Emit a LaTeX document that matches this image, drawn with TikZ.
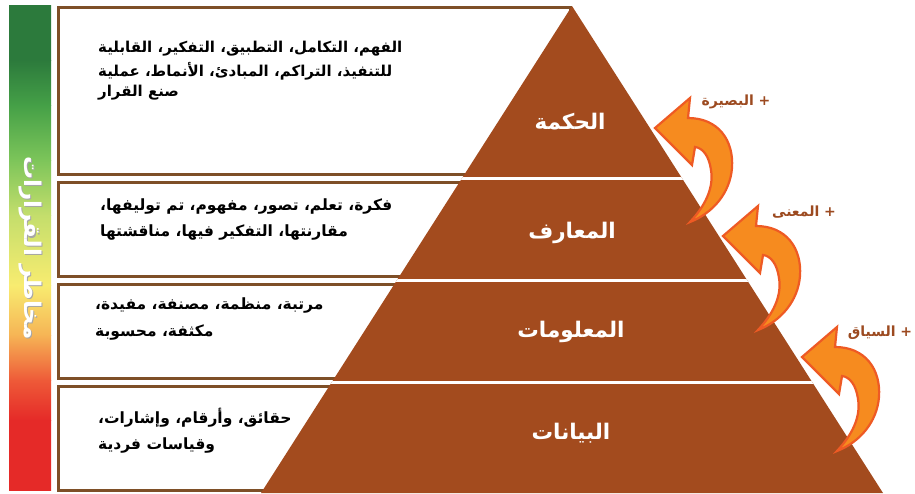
\documentclass[tikz,border=0pt]{standalone}
\usepackage{fontspec}
\newfontfamily\arabicfont[Script=Arabic]{DejaVu Sans}
\TeXXeTstate=1
\definecolor{pyr}{HTML}{A34B1E}
\definecolor{boxbrd}{HTML}{7E4F27}
\definecolor{arrfill}{HTML}{F68B1F}
\definecolor{arrline}{HTML}{EE5A24}
\definecolor{lbl}{HTML}{9C4A20}
\definecolor{g1}{HTML}{2C7A3C}
\definecolor{g2}{HTML}{45A047}
\definecolor{g3}{HTML}{7DC55A}
\definecolor{g4}{HTML}{C4DE6C}
\definecolor{g5}{HTML}{F8EC70}
\definecolor{g6}{HTML}{F6B455}
\definecolor{g7}{HTML}{EE5A38}
\definecolor{g8}{HTML}{E52A28}
\tikzset{
  infobox/.style={draw=boxbrd, line width=3pt, fill=white},
  boxtext/.style={anchor=west, inner sep=0pt, font=\arabicfont\bfseries\fontsize{15.5}{18}\selectfont, text=black},
  boxtexta/.style={anchor=west, inner sep=0pt, font=\arabicfont\bfseries\fontsize{15}{17}\selectfont, text=black},
  layerlabel/.style={inner sep=0pt, font=\arabicfont\bfseries\fontsize{21.5}{24}\selectfont, text=white},
  arrlabel/.style={inner sep=0pt, font=\arabicfont\bfseries\fontsize{14}{16}\selectfont, text=lbl},
  curvarrow/.pic={
    \filldraw[fill=arrfill, draw=arrline, line width=2.2pt, line join=miter, miter limit=6]
      (0,0) -- (35,-30) -- (33,-10)
      .. controls (63,-10) and (79,12) .. (77,40)
      .. controls (75,65) and (58,85) .. (35,94)
      .. controls (50,78) and (59,60) .. (56,42)
      .. controls (54,28) and (48,20) .. (40,19)
      -- (37,37) -- cycle;
  }
}
\begin{document}
\begin{tikzpicture}[x=1pt,y=-1pt]
\useasboundingbox (0,0) rectangle (915,493);
% gradient bar
\shade[top color=g1, bottom color=g1] (9,5) rectangle (51,60.5);
\shade[top color=g1, bottom color=g2] (9,60) rectangle (51,105.5);
\shade[top color=g2, bottom color=g3] (9,105) rectangle (51,160.5);
\shade[top color=g3, bottom color=g4] (9,160) rectangle (51,215.5);
\shade[top color=g4, bottom color=g5] (9,215) rectangle (51,285.5);
\shade[top color=g5, bottom color=g6] (9,285) rectangle (51,335.5);
\shade[top color=g6, bottom color=g7] (9,335) rectangle (51,380.5);
\shade[top color=g7, bottom color=g8] (9,380) rectangle (51,420.5);
\shade[top color=g8, bottom color=g8] (9,420) rectangle (51,490);
\node[rotate=-90, inner sep=0pt, text=gray!70, font=\arabicfont\bfseries\fontsize{23}{25}\selectfont] (riskshadow) at (31.2,249.2) {\beginR مخاطر القرارات\endR};
\node[rotate=-90, inner sep=0pt, text=white, font=\arabicfont\bfseries\fontsize{23}{25}\selectfont] (risk) at (30,248) {\beginR مخاطر القرارات\endR};
% boxes
\draw[infobox] (58,7) rectangle (570,174);
\draw[infobox] (58,182) rectangle (570,276);
\draw[infobox] (58,284) rectangle (570,378);
\draw[infobox] (58,386) rectangle (570,490);
% pyramid
\fill[pyr] (572,6) -- (883,493) -- (261,493) -- cycle;
\begin{scope}
  \clip (572,6) -- (883,493) -- (261,493) -- cycle;
  \draw[white, line width=3pt] (250,178.5) -- (900,178.5);
  \draw[white, line width=3pt] (250,280.5) -- (900,280.5);
  \draw[white, line width=3pt] (250,382.5) -- (900,382.5);
\end{scope}
% layer labels
\node[layerlabel] (wisdom) at (570,122) {\beginR الحكمة\endR};
\node[layerlabel] (knowledge) at (572,233) {\beginR المعارف\endR};
\node[layerlabel] (information) at (571,332) {\beginR المعلومات\endR};
\node[layerlabel] (data) at (571,433) {\beginR البيانات\endR};
% box texts
\node[boxtexta] (t1a) at (98,49) {\beginR الفهم، التكامل، التطبيق، التفكير، القابلية\endR};
\node[boxtexta] (t1b) at (98,71) {\beginR للتنفيذ، التراكم، المبادئ، الأنماط، عملية\endR};
\node[boxtexta] (t1c) at (98,93) {\beginR صنع القرار\endR};
\node[boxtext] (t2a) at (100,207) {\beginR فكرة، تعلم، تصور، مفهوم، تم توليفها،\endR};
\node[boxtext] (t2b) at (100,233) {\beginR مقارنتها، التفكير فيها، مناقشتها\endR};
\node[boxtext] (t3a) at (95,305) {\beginR مرتبة، منظمة، مصنفة، مفيدة،\endR};
\node[boxtext] (t3b) at (95,332) {\beginR مكثفة، محسوبة\endR};
\node[boxtext] (t4a) at (98,418) {\beginR حقائق، وأرقام، وإشارات،\endR};
\node[boxtext] (t4b) at (98,445) {\beginR وقياسات فردية\endR};
% arrows
\pic (arrA) at (655,128) {curvarrow};
\pic (arrB) at (723,236) {curvarrow};
\pic (arrC) at (802,357) {curvarrow};
\node[arrlabel] (insight) at (736,102) {\beginR + البصيرة\endR};
\node[arrlabel] (meaning) at (804,212) {\beginR + المعنى\endR};
\node[arrlabel] (context) at (880,333) {\beginR + السياق\endR};
\end{tikzpicture}
\end{document}
